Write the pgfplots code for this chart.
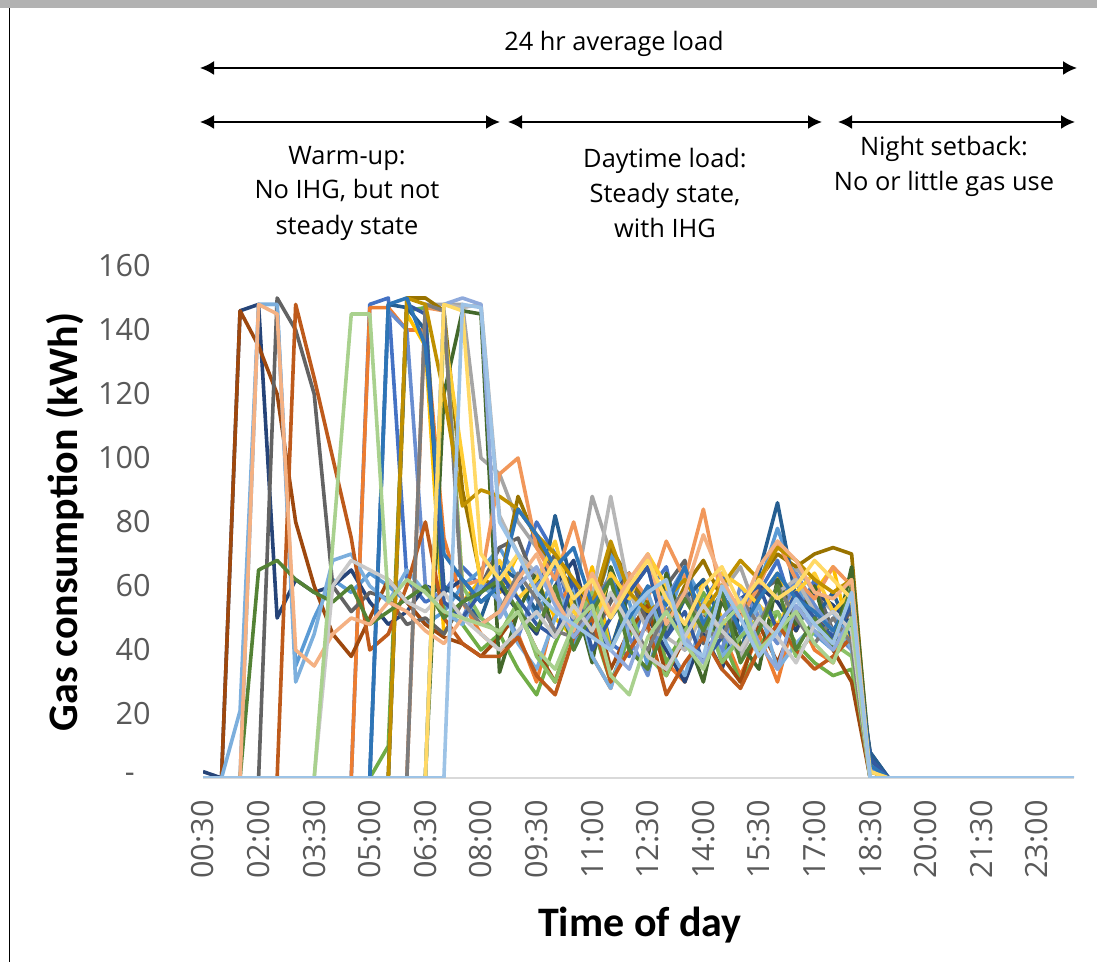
\documentclass[border=0pt]{standalone}
\usepackage{fontspec}
\setmainfont{Open Sans}
\newfontfamily\calfont{Carlito}
\usepackage{pgfplots}
\pgfplotsset{compat=1.18}
\usetikzlibrary{arrows.meta}
\definecolor{tickgray}{HTML}{595959}
\definecolor{c1}{HTML}{4472C4}
\definecolor{c2}{HTML}{ED7D31}
\definecolor{c3}{HTML}{A5A5A5}
\definecolor{c4}{HTML}{FFC000}
\definecolor{c5}{HTML}{5B9BD5}
\definecolor{c6}{HTML}{70AD47}
\definecolor{c7}{HTML}{264478}
\definecolor{c8}{HTML}{9E480E}
\definecolor{c9}{HTML}{636363}
\definecolor{c10}{HTML}{997300}
\definecolor{c11}{HTML}{255E91}
\definecolor{c12}{HTML}{43682B}
\definecolor{c13}{HTML}{698ED0}
\definecolor{c14}{HTML}{F1975A}
\definecolor{c15}{HTML}{B7B7B7}
\definecolor{c16}{HTML}{FFCD33}
\definecolor{c17}{HTML}{7CAFDD}
\definecolor{c18}{HTML}{8CC168}
\definecolor{c19}{HTML}{335AA1}
\definecolor{c20}{HTML}{BE5A1B}
\definecolor{c21}{HTML}{7C7C7C}
\definecolor{c22}{HTML}{BF9000}
\definecolor{c23}{HTML}{2E75B6}
\definecolor{c24}{HTML}{548235}
\definecolor{c25}{HTML}{8FAADC}
\definecolor{c26}{HTML}{F4B183}
\definecolor{c27}{HTML}{C9C9C9}
\definecolor{c28}{HTML}{FFD966}
\definecolor{c29}{HTML}{A9D18E}
\definecolor{c30}{HTML}{9DC3E6}
\begin{document}
\begin{tikzpicture}[x=1pt,y=1pt]
\useasboundingbox (0,0) rectangle (548.5,481);
\fill[black!30] (0,477) rectangle (548.5,481);
\draw[line width=0.8pt] (4.75,0) -- (4.75,477);
\begin{axis}[
  at={(101.5pt,92pt)}, anchor=south west, scale only axis,
  width=435.5pt, height=256pt,
  xmin=0, xmax=47, ymin=0, ymax=160,
  axis x line=bottom, axis y line=left,
  x axis line style={draw=black!15, line width=1pt, -},
  y axis line style={draw=none, -},
  major tick length=0pt,
  ytick={0,20,...,160},
  yticklabels={-\kern8pt,20,40,60,80,100,120,140,160},
  xtick={0,3,...,45},
  xticklabels={00:30,02:00,03:30,05:00,06:30,08:00,09:30,11:00,12:30,14:00,15:30,17:00,18:30,20:00,21:30,23:00},
  yticklabel style={font=\fontsize{15.3}{18}\selectfont, text=tickgray, anchor=east, inner sep=0pt, xshift=-26pt},
  xticklabel style={font=\fontsize{15.3}{18}\selectfont, text=tickgray, yshift=-11pt, rotate=90, anchor=east, inner sep=0pt},
  every axis plot/.append style={line width=1.8pt, line join=round, no markers},
]
\addplot[c1] table[x expr=\coordindex, y index=0, row sep=\\]{0\\0\\0\\0\\0\\0\\0\\0\\0\\148\\150\\62\\55\\58\\66\\60\\58\\62\\80\\70\\48\\64\\42\\38\\58\\66\\40\\55\\64\\45\\58\\68\\50\\62\\45\\48\\2\\0\\};
\addplot[c2] table[x expr=\coordindex, y index=0, row sep=\\]{0\\0\\0\\0\\0\\0\\0\\0\\0\\147\\147\\140\\140\\75\\55\\45\\40\\45\\30\\52\\62\\38\\28\\48\\58\\36\\30\\50\\46\\32\\45\\30\\52\\40\\36\\55\\5\\0\\};
\addplot[c3] table[x expr=\coordindex, y index=0, row sep=\\]{0\\0\\0\\0\\0\\0\\0\\0\\0\\0\\0\\0\\148\\148\\148\\100\\95\\80\\72\\66\\55\\88\\70\\58\\50\\45\\60\\44\\58\\66\\50\\42\\66\\58\\52\\45\\3\\0\\};
\addplot[c4] table[x expr=\coordindex, y index=0, row sep=\\]{0\\0\\0\\0\\0\\0\\0\\0\\0\\0\\0\\145\\135\\45\\55\\62\\58\\70\\62\\50\\44\\66\\40\\58\\70\\52\\44\\62\\50\\40\\56\\64\\46\\58\\66\\42\\4\\0\\};
\addplot[c5] table[x expr=\coordindex, y index=0, row sep=\\]{0\\0\\0\\148\\148\\35\\50\\62\\58\\64\\60\\55\\48\\52\\60\\65\\72\\62\\50\\64\\42\\52\\70\\55\\35\\48\\66\\55\\38\\52\\60\\78\\62\\45\\40\\55\\6\\0\\};
\addplot[c6] table[x expr=\coordindex, y index=0, row sep=\\]{0\\0\\0\\0\\0\\0\\0\\0\\0\\0\\10\\146\\147\\52\\48\\40\\45\\34\\26\\42\\55\\48\\30\\44\\56\\36\\46\\58\\44\\30\\40\\52\\42\\36\\32\\34\\0\\0\\};
\addplot[c7] table[x expr=\coordindex, y index=0, row sep=\\]{2\\0\\146\\148\\50\\62\\58\\60\\65\\55\\48\\52\\60\\58\\62\\55\\60\\52\\45\\60\\68\\46\\56\\64\\50\\40\\30\\45\\34\\52\\60\\55\\46\\58\\54\\48\\8\\0\\};
\addplot[c8] table[x expr=\coordindex, y index=0, row sep=\\]{0\\0\\146\\135\\120\\80\\60\\45\\38\\50\\62\\55\\48\\44\\42\\38\\44\\52\\40\\30\\48\\58\\34\\46\\54\\32\\44\\52\\38\\30\\48\\36\\50\\54\\40\\30\\0\\0\\};
\addplot[c9] table[x expr=\coordindex, y index=0, row sep=\\]{0\\0\\0\\0\\150\\140\\120\\60\\52\\58\\56\\48\\50\\45\\55\\60\\72\\75\\60\\70\\56\\44\\55\\64\\48\\60\\68\\42\\55\\46\\58\\62\\50\\60\\46\\52\\3\\0\\};
\addplot[c10] table[x expr=\coordindex, y index=0, row sep=\\]{0\\0\\0\\0\\0\\0\\0\\0\\0\\0\\0\\150\\150\\146\\90\\62\\60\\88\\74\\66\\60\\50\\72\\62\\55\\48\\60\\68\\56\\52\\62\\70\\66\\70\\72\\70\\2\\0\\};
\addplot[c11] table[x expr=\coordindex, y index=0, row sep=\\]{0\\0\\0\\0\\0\\0\\0\\0\\0\\0\\148\\147\\140\\60\\55\\50\\66\\62\\52\\82\\58\\48\\40\\58\\66\\44\\56\\62\\48\\38\\64\\86\\56\\50\\58\\44\\8\\0\\};
\addplot[c12] table[x expr=\coordindex, y index=0, row sep=\\]{0\\0\\0\\0\\0\\0\\0\\0\\0\\0\\0\\0\\0\\120\\146\\145\\33\\52\\64\\44\\58\\36\\66\\50\\38\\64\\46\\30\\56\\42\\34\\62\\48\\60\\40\\66\\5\\0\\};
\addplot[c13] table[x expr=\coordindex, y index=0, row sep=\\]{0\\0\\0\\0\\0\\0\\0\\0\\0\\0\\146\\140\\60\\55\\50\\62\\55\\44\\60\\66\\40\\52\\64\\44\\32\\56\\66\\48\\40\\60\\50\\42\\64\\54\\46\\40\\3\\0\\};
\addplot[c14] table[x expr=\coordindex, y index=0, row sep=\\]{0\\0\\0\\0\\0\\0\\0\\0\\0\\0\\0\\0\\147\\146\\60\\62\\95\\100\\72\\62\\80\\58\\50\\64\\56\\74\\62\\84\\56\\50\\60\\74\\62\\56\\66\\60\\0\\0\\};
\addplot[c15] table[x expr=\coordindex, y index=0, row sep=\\]{0\\0\\0\\0\\0\\0\\0\\0\\0\\0\\0\\0\\0\\148\\147\\148\\82\\70\\64\\58\\50\\56\\88\\58\\46\\44\\40\\52\\46\\38\\50\\58\\62\\52\\46\\42\\0\\0\\};
\addplot[c16] table[x expr=\coordindex, y index=0, row sep=\\]{0\\0\\0\\0\\0\\0\\0\\0\\0\\0\\0\\0\\0\\140\\100\\60\\68\\56\\62\\74\\52\\46\\64\\56\\70\\60\\42\\54\\64\\60\\54\\48\\58\\64\\52\\58\\2\\0\\};
\addplot[c17] table[x expr=\coordindex, y index=0, row sep=\\]{0\\0\\21\\148\\148\\30\\45\\68\\70\\60\\55\\65\\58\\52\\48\\60\\56\\42\\34\\50\\60\\38\\28\\48\\58\\42\\32\\50\\38\\44\\54\\34\\42\\48\\52\\40\\4\\0\\};
\addplot[c18] table[x expr=\coordindex, y index=0, row sep=\\]{0\\0\\0\\0\\0\\0\\0\\0\\0\\0\\0\\0\\0\\146\\60\\50\\45\\55\\38\\30\\48\\58\\40\\52\\38\\32\\46\\54\\36\\44\\50\\52\\38\\46\\42\\38\\0\\0\\};
\addplot[c19] table[x expr=\coordindex, y index=0, row sep=\\]{0\\0\\0\\0\\0\\0\\0\\0\\0\\0\\0\\148\\145\\55\\50\\58\\64\\56\\48\\44\\62\\40\\50\\58\\66\\44\\52\\36\\44\\56\\60\\46\\58\\50\\44\\54\\6\\0\\};
\addplot[c20] table[x expr=\coordindex, y index=0, row sep=\\]{0\\0\\0\\0\\0\\148\\125\\100\\75\\40\\45\\60\\80\\50\\42\\38\\38\\44\\32\\26\\44\\50\\30\\40\\48\\26\\36\\44\\34\\28\\40\\48\\40\\34\\38\\44\\0\\0\\};
\addplot[c21] table[x expr=\coordindex, y index=0, row sep=\\]{0\\0\\0\\0\\0\\0\\0\\0\\0\\0\\0\\0\\148\\146\\55\\48\\52\\64\\56\\46\\44\\56\\62\\48\\40\\52\\58\\46\\44\\56\\48\\60\\50\\42\\50\\42\\0\\0\\};
\addplot[c22] table[x expr=\coordindex, y index=0, row sep=\\]{0\\0\\0\\0\\0\\0\\0\\0\\0\\0\\0\\150\\148\\120\\85\\90\\88\\84\\76\\70\\62\\54\\74\\58\\52\\56\\62\\52\\60\\68\\62\\72\\68\\62\\58\\62\\0\\0\\};
\addplot[c23] table[x expr=\coordindex, y index=0, row sep=\\]{0\\0\\0\\0\\0\\0\\0\\0\\0\\0\\148\\150\\135\\70\\62\\55\\60\\84\\76\\66\\72\\54\\62\\50\\60\\54\\66\\48\\58\\46\\56\\64\\56\\52\\46\\56\\4\\0\\};
\addplot[c24] table[x expr=\coordindex, y index=0, row sep=\\]{0\\0\\0\\65\\68\\62\\58\\55\\60\\48\\52\\56\\60\\50\\55\\58\\62\\52\\46\\60\\40\\52\\62\\40\\34\\48\\56\\46\\58\\36\\46\\60\\40\\50\\42\\60\\0\\0\\};
\addplot[c25] table[x expr=\coordindex, y index=0, row sep=\\]{0\\0\\0\\0\\0\\0\\0\\0\\0\\0\\0\\0\\0\\148\\150\\148\\50\\60\\66\\54\\44\\52\\40\\34\\50\\58\\44\\36\\50\\56\\42\\34\\54\\46\\40\\50\\0\\0\\};
\addplot[c26] table[x expr=\coordindex, y index=0, row sep=\\]{0\\0\\0\\148\\145\\40\\35\\45\\50\\48\\55\\52\\46\\42\\50\\48\\52\\62\\70\\56\\46\\64\\52\\62\\70\\48\\58\\76\\62\\52\\66\\74\\68\\58\\56\\62\\0\\0\\};
\addplot[c27] table[x expr=\coordindex, y index=0, row sep=\\]{0\\0\\0\\0\\0\\0\\0\\60\\68\\65\\62\\55\\52\\58\\50\\45\\40\\46\\52\\44\\54\\46\\58\\48\\38\\34\\44\\54\\46\\40\\50\\44\\36\\48\\52\\46\\0\\0\\};
\addplot[c28] table[x expr=\coordindex, y index=0, row sep=\\]{0\\0\\0\\0\\0\\0\\0\\0\\0\\0\\0\\0\\0\\148\\146\\70\\62\\70\\58\\68\\56\\62\\50\\60\\68\\56\\48\\60\\66\\54\\62\\56\\60\\68\\62\\56\\2\\0\\};
\addplot[c29] table[x expr=\coordindex, y index=0, row sep=\\]{0\\0\\0\\0\\0\\0\\0\\73\\145\\145\\55\\62\\58\\52\\50\\48\\46\\52\\40\\34\\48\\54\\32\\26\\44\\52\\42\\34\\48\\54\\40\\46\\52\\42\\36\\50\\0\\0\\};
\addplot[c30] table[x expr=\coordindex, y index=0, row sep=\\]{0\\0\\0\\0\\0\\0\\0\\0\\0\\0\\0\\0\\0\\0\\148\\147\\80\\70\\58\\52\\48\\44\\40\\52\\58\\62\\42\\38\\60\\50\\38\\46\\56\\48\\42\\58\\0\\0\\0\\0\\0\\0\\0\\0\\0\\0\\0\\0\\};
\end{axis}
\node[font=\calfont\bfseries\fontsize{21}{25}\selectfont, rotate=90] at (32.5,220) {Gas consumption (kWh)};
\node[font=\calfont\bfseries\fontsize{21}{25}\selectfont] at (320,18.5) {Time of day};
\node[font=\fontsize{12.7}{17.5}\selectfont] at (307,459) {24 hr average load};
\draw[line width=1pt, {Latex[length=7pt,width=7pt]}-{Latex[length=7pt,width=7pt]}] (100,447) -- (538.5,447);
\draw[line width=1pt, {Latex[length=7pt,width=7pt]}-{Latex[length=7pt,width=7pt]}] (100,420) -- (250,420);
\draw[line width=1pt, {Latex[length=7pt,width=7pt]}-{Latex[length=7pt,width=7pt]}] (254,420) -- (411,420);
\draw[line width=1pt, {Latex[length=7pt,width=7pt]}-{Latex[length=7pt,width=7pt]}] (419,420) -- (537.5,420);
\node[font=\fontsize{12.7}{17.5}\selectfont, align=center] at (173.5,384.5) {Warm-up:\\No IHG, but not\\steady state};
\node[font=\fontsize{12.7}{17.5}\selectfont, align=center] at (332.5,384.5) {Daytime load:\\Steady state,\\with IHG};
\node[font=\fontsize{12.7}{17.5}\selectfont, align=center] at (472,398) {Night setback:\\No or little gas use};
\end{tikzpicture}
\end{document}
